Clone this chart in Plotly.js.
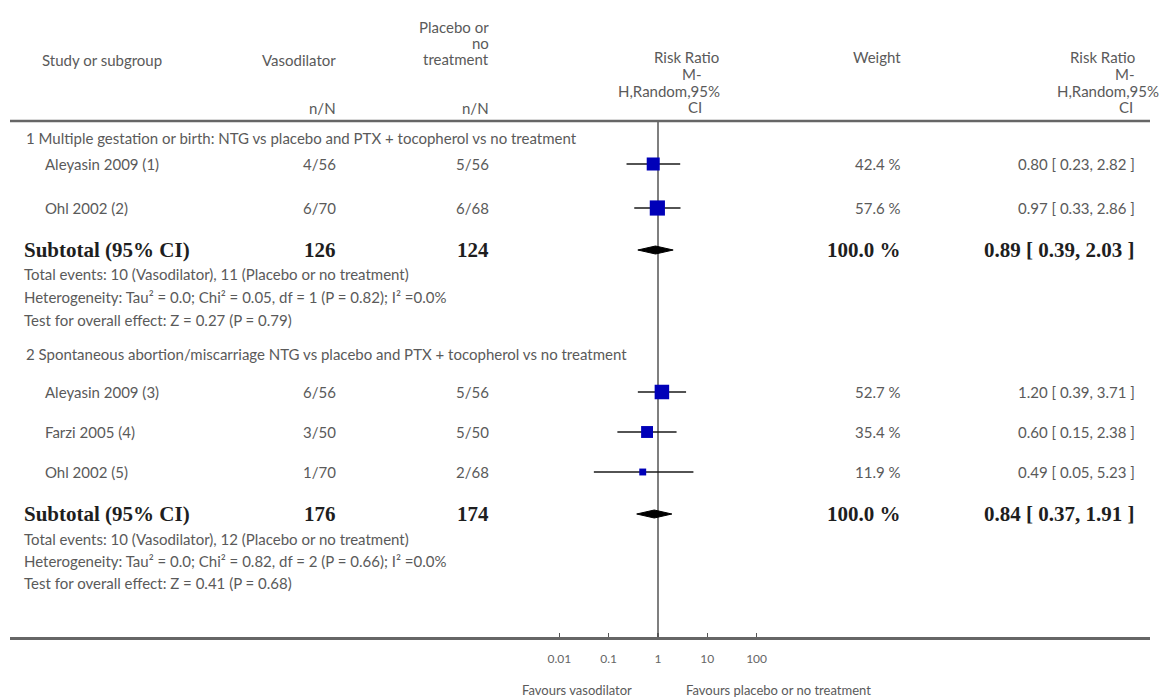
<!DOCTYPE html>
<html>
<head>
<meta charset="utf-8">
<script src="https://cdn.plot.ly/plotly-3.0.1.min.js"></script>
<style>html,body{margin:0;padding:0;background:#fff;}#chart{width:1163px;height:700px;}</style>
</head>
<body>
<div id="chart"></div>
<script>
// ---------------- DATA ----------------
const groupTitles = [
  "1 Multiple gestation or birth: NTG vs placebo and PTX + tocopherol vs no treatment",
  "2 Spontaneous abortion/miscarriage NTG vs placebo and PTX + tocopherol vs no treatment"
];
const studies      = ["Aleyasin 2009 (1)", "Ohl 2002 (2)", "Aleyasin 2009 (3)", "Farzi 2005 (4)", "Ohl 2002 (5)"];
const vasoEvents   = [4, 6, 6, 3, 1];
const vasoTotal    = [56, 70, 56, 50, 70];
const ctrlEvents   = [5, 6, 5, 5, 2];
const ctrlTotal    = [56, 68, 56, 50, 68];
const weights      = [42.4, 57.6, 52.7, 35.4, 11.9];
const riskRatio    = [0.80, 0.97, 1.20, 0.60, 0.49];
const ciLow        = [0.23, 0.33, 0.39, 0.15, 0.05];
const ciHigh       = [2.82, 2.86, 3.71, 2.38, 5.23];

const subVasoTotal = [126, 176];
const subCtrlTotal = [124, 174];
const subWeight    = [100.0, 100.0];
const subRR        = [0.89, 0.84];
const subLow       = [0.39, 0.37];
const subHigh      = [2.03, 1.91];
const subVasoEvents = [10, 10];
const subCtrlEvents = [11, 12];
const hetTau2      = ["0.0", "0.0"];
const hetChi2      = ["0.05", "0.82"];
const hetDf        = [1, 2];
const hetP         = ["0.82", "0.66"];
const hetI2        = ["0.0", "0.0"];
const effectZ      = ["0.27", "0.41"];
const effectP      = ["0.79", "0.68"];

const tickValues   = [0.01, 0.1, 1, 10, 100];
const tickLabels   = ["0.01", "0.1", "1", "10", "100"];
const favoursLeft  = "Favours vasodilator";
const favoursRight = "Favours placebo or no treatment";

// ---------------- LAYOUT (pixel positions) ----------------
const W = 1163, H = 700;
const AXIS_Y = 637, HEADER_LINE_Y = 121;
const X_ONE = 658, PX_PER_DECADE = 49.3;
const LINE_X0 = 10, LINE_X1 = 1150;
const groupHeaderY = [138, 354];
const studyY       = [164, 208, 392, 432, 472];
const subtotalY    = [250, 514];
const totalEvY     = [274, 539];
const hetY         = [297, 561];
const testY        = [320, 583];

const COL_NAME_GROUP = 24, COL_NAME_STUDY = 43;
const COL_VASO_R = 338, COL_CTRL_R = 491;
const COL_WEIGHT_R = 903, COL_RR_R = 1137;

const sans = 'Lato, "Open Sans", sans-serif';
const serif = '"Liberation Serif", "DejaVu Serif", serif';
const gray = '#5a5a5a';
const dark = '#1e1e1e';
const FS = 15, FS_BOLD = 21;

function txt(text, px, py, anchor, size, family, color) {
  return {
    text: text, x: px / W, y: 1 - py / H, xref: 'paper', yref: 'paper',
    xanchor: anchor || 'left', yanchor: 'middle', showarrow: false,
    font: {family: family || sans, size: size || FS, color: color || gray}
  };
}
const ann = [];
// header
ann.push(txt("Study or subgroup", 40, 60, 'left'));
ann.push(txt("Vasodilator", COL_VASO_R, 60, 'right'));
ann.push(txt("Placebo or", COL_CTRL_R, 27, 'right'));
ann.push(txt("no", COL_CTRL_R, 43, 'right'));
ann.push(txt("treatment", COL_CTRL_R, 59, 'right'));
ann.push(txt("n/N", COL_VASO_R, 108, 'right'));
ann.push(txt("n/N", COL_CTRL_R, 108, 'right'));
ann.push(txt("Risk Ratio", 686, 57, 'center'));
ann.push(txt("M-", 692, 74, 'center'));
ann.push(txt("H,Random,95%", 669, 91, 'center'));
ann.push(txt("CI", 695, 107, 'center'));
ann.push(txt("Weight", COL_WEIGHT_R, 57, 'right'));
ann.push(txt("Risk Ratio", COL_RR_R, 57, 'right'));
ann.push(txt("M-", COL_RR_R, 74, 'right'));
ann.push(txt("H,Random,95%", 1161, 91, 'right'));
ann.push(txt("CI", COL_RR_R - 2, 107, 'right'));

for (let g = 0; g < 2; g++) {
  ann.push(txt(groupTitles[g], COL_NAME_GROUP, groupHeaderY[g], 'left'));
  ann.push(txt("<b>Subtotal (95% CI)</b>", 22, subtotalY[g], 'left', FS_BOLD, serif, dark));
  ann.push(txt("<b>" + subVasoTotal[g] + "</b>", COL_VASO_R, subtotalY[g], 'right', FS_BOLD, serif, dark));
  ann.push(txt("<b>" + subCtrlTotal[g] + "</b>", COL_CTRL_R, subtotalY[g], 'right', FS_BOLD, serif, dark));
  ann.push(txt("<b>" + subWeight[g].toFixed(1) + " %</b>", COL_WEIGHT_R, subtotalY[g], 'right', FS_BOLD, serif, dark));
  ann.push(txt("<b>" + subRR[g].toFixed(2) + " [ " + subLow[g].toFixed(2) + ", " + subHigh[g].toFixed(2) + " ]</b>", COL_RR_R, subtotalY[g], 'right', FS_BOLD, serif, dark));
  ann.push(txt("Total events: " + subVasoEvents[g] + " (Vasodilator), " + subCtrlEvents[g] + " (Placebo or no treatment)", 22, totalEvY[g], 'left'));
  ann.push(txt("Heterogeneity: Tau² = " + hetTau2[g] + "; Chi² = " + hetChi2[g] + ", df = " + hetDf[g] + " (P = " + hetP[g] + "); I² =" + hetI2[g] + "%", 22, hetY[g], 'left'));
  ann.push(txt("Test for overall effect: Z = " + effectZ[g] + " (P = " + effectP[g] + ")", 22, testY[g], 'left'));
}

for (let i = 0; i < studies.length; i++) {
  const y = studyY[i];
  ann.push(txt(studies[i], COL_NAME_STUDY, y, 'left'));
  ann.push(txt(vasoEvents[i] + "/" + vasoTotal[i], COL_VASO_R, y, 'right'));
  ann.push(txt(ctrlEvents[i] + "/" + ctrlTotal[i], COL_CTRL_R, y, 'right'));
  ann.push(txt(weights[i].toFixed(1) + " %", COL_WEIGHT_R, y, 'right'));
  ann.push(txt(riskRatio[i].toFixed(2) + " [ " + ciLow[i].toFixed(2) + ", " + ciHigh[i].toFixed(2) + " ]", COL_RR_R, y, 'right'));
}
ann.push(txt(favoursLeft, 577, 690, 'center', 13));
ann.push(txt(favoursRight, 778, 690, 'center', 13));

// ---------------- TRACES ----------------
const traces = [];
traces.push({x: [1, 1], y: [HEADER_LINE_Y, AXIS_Y], mode: 'lines', line: {color: '#555', width: 1.5}, hoverinfo: 'skip', showlegend: false});
const cx = [], cy = [];
for (let i = 0; i < studies.length; i++) { cx.push(ciLow[i], ciHigh[i], null); cy.push(studyY[i], studyY[i], null); }
traces.push({x: cx, y: cy, mode: 'lines', line: {color: '#1a1a1a', width: 1.6}, hoverinfo: 'skip', showlegend: false});
traces.push({x: riskRatio, y: studyY, mode: 'markers', showlegend: false,
  marker: {symbol: 'square', color: '#0000b8', opacity: 1, size: weights.map(w => 2 * Math.sqrt(w)), line: {width: 0}}});
for (let g = 0; g < 2; g++) {
  const y = subtotalY[g], h = 4;
  traces.push({x: [subLow[g], subRR[g], subHigh[g], subRR[g], subLow[g]], y: [y, y - h, y, y + h, y],
    mode: 'lines', fill: 'toself', fillcolor: '#000', line: {color: '#000', width: 1}, hoverinfo: 'skip', showlegend: false});
}

const layout = {
  width: W, height: H, margin: {l: 0, r: 0, t: 0, b: 0},
  paper_bgcolor: '#fff', plot_bgcolor: '#fff', showlegend: false,
  xaxis: {
    type: 'log', domain: [LINE_X0 / W, LINE_X1 / W],
    range: [(LINE_X0 - X_ONE) / PX_PER_DECADE, (LINE_X1 - X_ONE) / PX_PER_DECADE],
    showgrid: false, zeroline: false, showline: true, linecolor: '#666', linewidth: 2.5,
    ticks: 'inside', ticklen: 4, tickwidth: 1.5, tickcolor: '#555',
    tickvals: tickValues, ticktext: tickLabels, ticklabelstandoff: 9,
    tickfont: {family: sans, size: 12, color: '#666'}, fixedrange: true
  },
  yaxis: {
    domain: [1 - AXIS_Y / H, 1], range: [AXIS_Y, 0], visible: false, showgrid: false, zeroline: false, fixedrange: true
  },
  shapes: [{type: 'line', xref: 'paper', yref: 'paper', x0: LINE_X0 / W, x1: LINE_X1 / W,
    y0: 1 - HEADER_LINE_Y / H, y1: 1 - HEADER_LINE_Y / H, line: {color: '#666', width: 2.5}}],
  annotations: ann
};
Plotly.newPlot('chart', traces, layout, {staticPlot: true, displayModeBar: false});
</script>
</body>
</html>
